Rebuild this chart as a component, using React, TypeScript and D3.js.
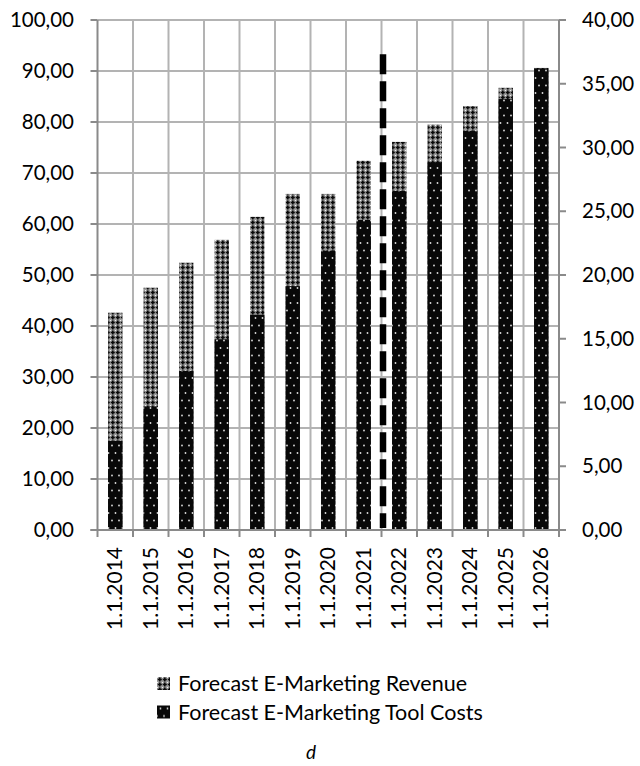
import React from 'react';
import * as d3 from 'd3';

// data
const years = ['1.1.2014', '1.1.2015', '1.1.2016', '1.1.2017', '1.1.2018', '1.1.2019', '1.1.2020',
  '1.1.2021', '1.1.2022', '1.1.2023', '1.1.2024', '1.1.2025', '1.1.2026'];
const revenue = [42.6, 47.5, 52.4, 56.9, 61.4, 65.9, 65.9, 72.4, 76.1, 79.5, 83.1, 86.7, 90.6]; // left axis
const toolCosts = [7.0, 9.68, 12.48, 14.96, 16.88, 19.12, 21.92, 24.32, 26.6, 28.84, 31.32, 33.8, 36.2]; // right axis
const leftTicks = [0, 10, 20, 30, 40, 50, 60, 70, 80, 90, 100];
const rightTicks = [0, 5, 10, 15, 20, 25, 30, 35, 40];
const forecastStart = '1.1.2022';
const forecastLineTop = 93.3;
const legendLabels = ['Forecast E-Marketing Revenue', 'Forecast E-Marketing Tool Costs'];

const W = 640;
const H = 766;
const margin = { top: 20, right: 81, bottom: 236, left: 97.5 };
const font = 'Lato, Carlito, sans-serif';
const fmt = (v: number) => v.toFixed(2).replace('.', ',');

export default function App() {
  const x = d3.scaleBand().domain(years).range([margin.left, W - margin.right]).padding(0);
  const yL = d3.scaleLinear().domain([0, 100]).range([H - margin.bottom, margin.top]);
  const yR = d3.scaleLinear().domain([0, 40]).range([H - margin.bottom, margin.top]);
  const bw = x.bandwidth() * 0.405;
  const x0 = margin.left;
  const x1 = W - margin.right;
  const yb = yL(0);
  const grid = '#b3b3b3';
  const axis = '#8a8a8a';

  return (
    <svg width={W} height={H} style={{ position: 'absolute', left: 0, top: 0, background: '#fff' }}>
      <defs>
        <pattern id="rev" width={5} height={5} patternUnits="userSpaceOnUse">
          <rect width={5} height={5} fill="#9a9a9a" />
          <rect x={0} y={0} width={1} height={1} fill="#eee" />
          <rect x={2} y={0.5} width={1.6} height={4} fill="#0a0a0a" />
          <rect x={0.8} y={1.7} width={4} height={1.6} fill="#0a0a0a" />
        </pattern>
        <pattern id="cost" width={7} height={15} patternUnits="userSpaceOnUse">
          <rect width={7} height={15} fill="#080808" />
          <circle cx={3.5} cy={3} r={0.9} fill="#ddd" />
          <circle cx={0} cy={10.5} r={0.9} fill="#ddd" />
          <circle cx={7} cy={10.5} r={0.9} fill="#ddd" />
        </pattern>
      </defs>

      {/* horizontal gridlines */}
      {leftTicks.map(t => (
        <line key={'h' + t} x1={x0} x2={x1} y1={yL(t)} y2={yL(t)} stroke={grid} strokeWidth={2} />
      ))}
      {/* vertical gridlines at category boundaries */}
      {years.map((c, i) => i > 0 && (
        <line key={'v' + c} x1={x(c)!} x2={x(c)!} y1={margin.top} y2={yb} stroke={grid} strokeWidth={2} />
      ))}
      {/* x ticks */}
      {years.concat(['end']).map((c, i) => {
        const xx = i < years.length ? x(c)! : x1;
        return <line key={'xt' + i} x1={xx} x2={xx} y1={yb} y2={yb + 7} stroke={axis} strokeWidth={2} />;
      })}

      {/* revenue bars (behind) */}
      {years.map((c, i) => (
        <rect key={'r' + c} x={x(c)! + x.bandwidth() / 2 - bw / 2} y={yL(revenue[i])} width={bw}
          height={yb - yL(revenue[i])} fill="url(#rev)" />
      ))}
      {/* tool cost bars (front, secondary axis) */}
      {years.map((c, i) => (
        <rect key={'c' + c} x={x(c)! + x.bandwidth() / 2 - bw / 2} y={yR(toolCosts[i])} width={bw}
          height={yb - yR(toolCosts[i])} fill="url(#cost)" />
      ))}

      {/* forecast divider */}
      <line x1={x(forecastStart)! + 1.5} x2={x(forecastStart)! + 1.5} y1={yL(forecastLineTop)} y2={yb - 2}
        stroke="#000" strokeWidth={6.5} strokeDasharray="20 7" />

      {/* axes lines */}
      <line x1={x0} x2={x0} y1={margin.top} y2={yb + 1} stroke={axis} strokeWidth={2} />
      <line x1={x1} x2={x1} y1={margin.top} y2={yb + 1} stroke={axis} strokeWidth={2} />
      <line x1={x0 - 7} x2={x1 + 7} y1={yb} y2={yb} stroke={axis} strokeWidth={2} />

      {/* left axis */}
      {leftTicks.map(t => (
        <g key={'lt' + t}>
          <line x1={x0 - 7} x2={x0} y1={yL(t)} y2={yL(t)} stroke={axis} strokeWidth={2} />
          <text x={74} y={yL(t)} dy="0.35em" textAnchor="end" fontFamily={font} fontSize={20.5} fill="#000">{fmt(t)}</text>
        </g>
      ))}
      {/* right axis */}
      {rightTicks.map(t => (
        <g key={'rt' + t}>
          <line x1={x1} x2={x1 + 7} y1={yR(t)} y2={yR(t)} stroke={axis} strokeWidth={2} />
          <text x={582} y={yR(t)} dy="0.35em" textAnchor="start" fontFamily={font} fontSize={20.5} fill="#000">{fmt(t)}</text>
        </g>
      ))}
      {/* x labels */}
      {years.map(c => {
        const cx = x(c)! + x.bandwidth() / 2;
        return (
          <text key={'xl' + c} transform={`translate(${cx + 7},${yb + 17}) rotate(-90)`} textAnchor="end"
            fontFamily={font} fontSize={21} fill="#000">{c}</text>
        );
      })}

      {/* legend */}
      {legendLabels.map((l, i) => (
        <g key={l} transform={`translate(157,${677 + i * 28.5})`}>
          <rect x={0} y={0} width={13} height={13} fill={i === 0 ? 'url(#rev)' : 'url(#cost)'} />
          <text x={21} y={14} fontFamily={font} fontSize={21.5} fill="#000">{l}</text>
        </g>
      ))}
      <text x={311} y={759} textAnchor="middle" fontFamily={font} fontStyle="italic" fontSize={19} fill="#000">d</text>
    </svg>
  );
}
